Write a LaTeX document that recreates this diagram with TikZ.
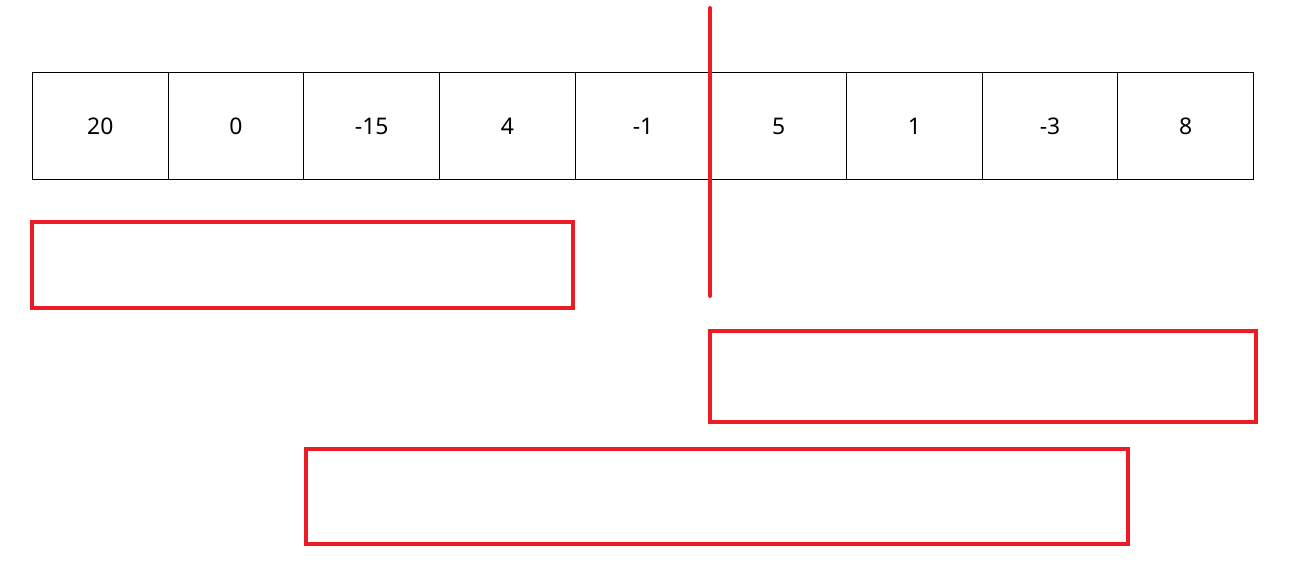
\documentclass[tikz,border=0pt]{standalone}
\usepackage{fontspec}
\setmainfont{Noto Sans}
\definecolor{cutred}{HTML}{ED1C24}
\begin{document}
\begin{tikzpicture}[x=1bp,y=-1bp,
		cell/.style={draw=black,line width=1bp,minimum width=135.7bp,minimum height=107bp,inner sep=0pt,anchor=north west,font=\fontsize{23}{27}\selectfont},
		span/.style={draw=cutred,line width=4bp}]
		\useasboundingbox (0,0) rectangle (1291,578);
		\foreach \v [count=\i from 0] in {20,0,-15,4,-1,5,1,-3,8}{
			\node[cell] (c\i) at (32+135.67*\i,72) {\v};
		}
		\coordinate (midtop) at (710,8);
		\coordinate (midbot) at (710,296);
		\draw[cutred,line width=4bp,line cap=round] (midtop) -- (midbot);
		\draw[span] (32,222) rectangle (573,308);
		\draw[span] (710,331) rectangle (1256,422);
		\draw[span] (306,449) rectangle (1128,544);
	\end{tikzpicture}
\end{document}
